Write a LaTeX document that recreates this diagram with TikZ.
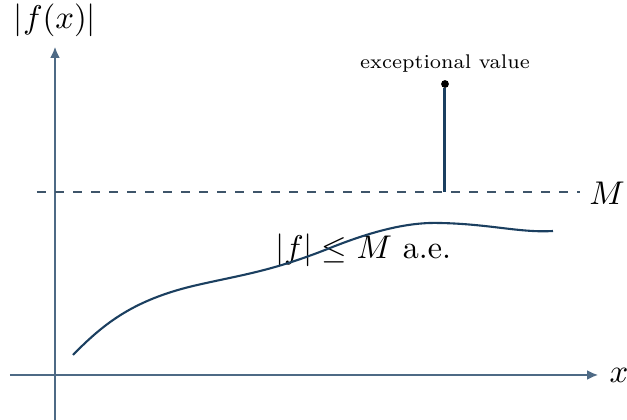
\documentclass[tikz,border=0pt]{standalone}
\usepackage{amsmath,amssymb}
\usetikzlibrary{arrows.meta,positioning}
\definecolor{axiscol}{HTML}{4E6A85}
\definecolor{curvecol}{HTML}{1B3F60}
\tikzset{
  axis line/.style={draw=axiscol,line width=0.45pt,-{Latex[length=3.6pt,width=3.2pt]}},
  bound line/.style={draw=axiscol!80!black,dashed,line width=0.35pt},
  fcurve/.style={draw=curvecol,line width=0.7pt},
  spike/.style={draw=curvecol,line width=1pt},
  lab/.style={font=\fontsize{10.7}{13}\selectfont},
}

\begin{document}
\begin{tikzpicture}[x=0.3333pt,y=-0.3333pt]
      \useasboundingbox (0,0) rectangle (627,420);
      \coordinate (xs) at (10,375);
      \coordinate (xe) at (598,375);
      \coordinate (ys) at (55,420);
      \coordinate (ye) at (55,47);
      \coordinate (ms) at (37,192);
      \coordinate (me) at (580,192);
      \coordinate (base) at (445,192);
      \node[circle,fill=black,inner sep=0pt,minimum size=2.6pt] (dot) at (445,84) {};

      \node[lab] (xlab) at (619,375) {$x$};
      \node[lab] (ylab) at (55,20) {$|f(x)|$};
      \node[lab] (mlab) at (607,193) {$M$};
      \node[font=\fontsize{6.6}{8}\selectfont] (exc) at (445,64) {exceptional value};
      \node[lab] (bound) at (363,250) {$|f|\le M$ a.e.};

      \draw[axis line] (xs) -- (xe);
      \draw[axis line] (ys) -- (ye);
      \draw[bound line] (ms) -- (me);
      \draw[spike] (base) -- (dot);
      \draw[fcurve] (73,355) .. controls (105,322) and (135,300) .. (193,286)
        .. controls (240,275) and (270,272) .. (330,248)
        .. controls (375,230) and (410,222) .. (440,223)
        .. controls (490,224) and (520,233) .. (553,231);
    \end{tikzpicture}
\end{document}
